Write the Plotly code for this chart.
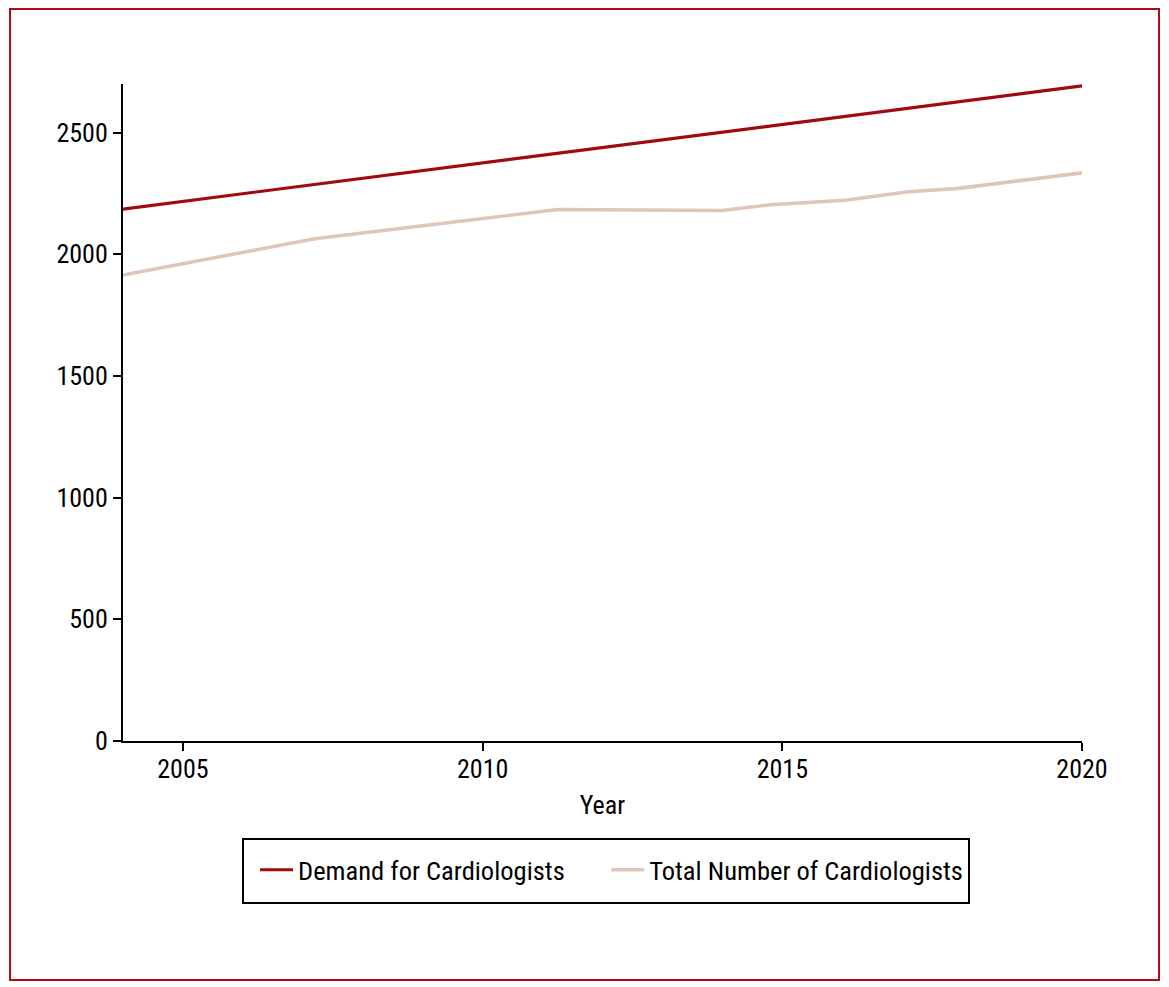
import plotly.graph_objects as go

# Data
demand_years = [2004, 2020]
demand_values = [2186, 2692]

total_years = [2004, 2007.2, 2011.25, 2014, 2014.8, 2016.05, 2017.1, 2017.9, 2020]
total_values = [1915, 2064, 2184, 2180, 2204, 2222, 2257, 2270, 2335]

x_ticks = [2005, 2010, 2015, 2020]
y_ticks = [0, 500, 1000, 1500, 2000, 2500]

FONT = "Liberation Sans Narrow, Arial Narrow, Roboto Condensed, sans-serif"
# page body has an 8px margin, so figure coords = screen coords - 8
OFF = 8
W, H = 1161, 979
L, R, T, B = 115, 87, 76, 246
pw, ph = W - L - R, H - T - B

def px_x(p):
    return (p - OFF - L) / pw

def px_y(p):
    return (H - B - (p - OFF)) / ph

fig = go.Figure()
fig.add_trace(go.Scatter(x=demand_years, y=demand_values, mode="lines",
                         name="Demand for Cardiologists\u00a0\u00a0\u00a0\u00a0\u00a0\u00a0",
                         line=dict(color="#A00A0E", width=3.2)))
fig.add_trace(go.Scatter(x=total_years, y=total_values, mode="lines",
                         name="Total Number of Cardiologists",
                         line=dict(color="#E0C5B9", width=3.6)))

fig.update_layout(
    width=W, height=H,
    margin=dict(l=L, r=R, t=T, b=B),
    paper_bgcolor="white", plot_bgcolor="white",
    font=dict(family=FONT, size=26, color="black"),
    showlegend=True,
    legend=dict(orientation="h", x=px_x(255), xanchor="left",
                y=px_y(846), yanchor="top",
                borderwidth=0,
                font=dict(family=FONT, size=26.5, color="black"),
                itemwidth=33, bgcolor="rgba(0,0,0,0)"),
    xaxis=dict(range=[2004, 2020], tickvals=x_ticks,
               showgrid=False, zeroline=False,
               showline=True, linecolor="black", linewidth=2,
               ticks="outside", ticklen=8, tickwidth=2, tickcolor="black",
               ticklabelstandoff=-4,
               title=dict(text="Year", standoff=13,
                          font=dict(family=FONT, size=26))),
    yaxis=dict(range=[0, 2700], tickvals=y_ticks,
               showgrid=False, zeroline=False,
               showline=True, linecolor="black", linewidth=2,
               ticks="outside", ticklen=8, tickwidth=2, tickcolor="black",
               ticklabelstandoff=0),
    shapes=[
        dict(type="rect", xref="paper", yref="paper",
             x0=px_x(10), x1=px_x(1159), y0=px_y(980), y1=px_y(9),
             line=dict(color="#B00A14", width=2), layer="below"),
        dict(type="rect", xref="paper", yref="paper",
             x0=px_x(243), x1=px_x(969), y0=px_y(903), y1=px_y(839),
             line=dict(color="black", width=2), layer="below"),
    ],
)

fig.write_html("out.html")
